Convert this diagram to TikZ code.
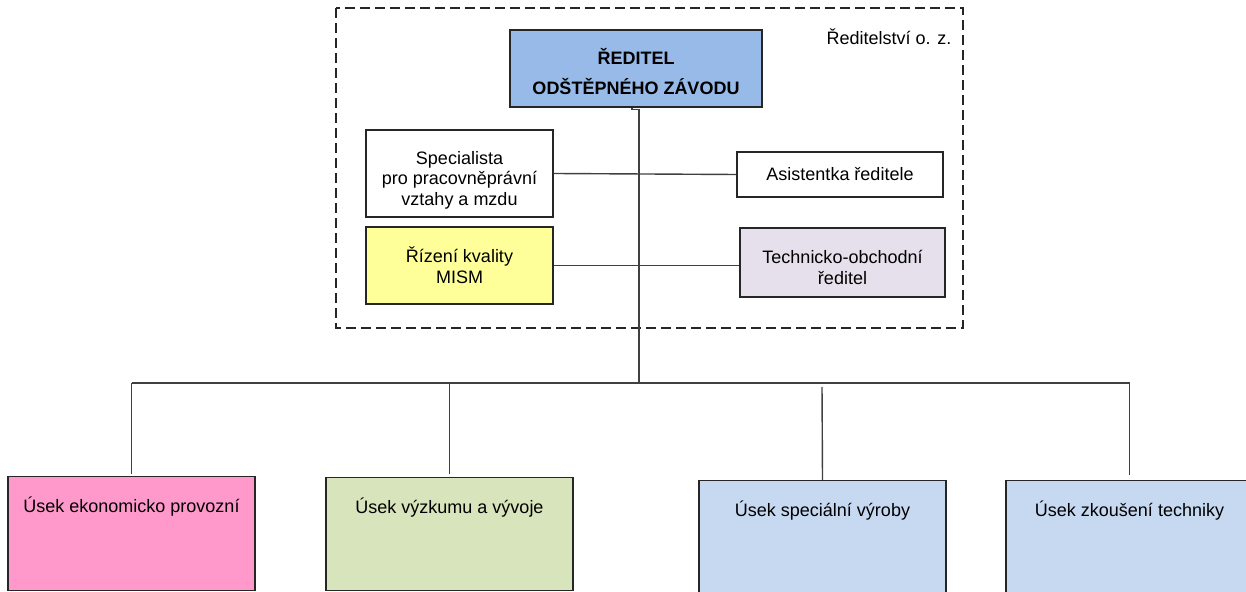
\documentclass[tikz,border=0pt]{standalone}
\usepackage{fontspec}
\setmainfont{Liberation Sans}
\definecolor{reditelblue}{HTML}{98BAE9}
\definecolor{kvalita}{HTML}{FFFF99}
\definecolor{obchod}{HTML}{E5E0EC}
\definecolor{ekonom}{HTML}{FF99CC}
\definecolor{vyzkum}{HTML}{D8E4BC}
\definecolor{vyroba}{HTML}{C6D9F1}
\newcommand{\vyska}[1]{\rule{0pt}{#1}}
\begin{document}
\begin{tikzpicture}[x=0.5pt,y=-0.5pt,line width=0.7pt,
    box/.style={draw=black!85,align=center,inner sep=0pt,font=\fontsize{9}{10.3}\selectfont},
    usek/.style={box,anchor=north,minimum width=123.5pt,text height=18pt,text depth=#1},
    spoj/.style={draw=black!75}]
  \useasboundingbox (0,0) rectangle (1246,592);
  \draw[black!85,dash pattern=on 5pt off 2.5pt] (336,8) rectangle (963,328);
  \node (reditelstvi) at (889,37) {\fontsize{9}{11}\selectfont Ředitelství o. z.};
  \node[box,fill=reditelblue,minimum width=126pt,minimum height=38.5pt,
    font=\fontsize{9}{15}\selectfont\bfseries] (reditel) at (636,68.5) {\vyska{11.5pt}ŘEDITEL\\ODŠTĚPNÉHO ZÁVODU};
  \node[box,minimum width=93.5pt,minimum height=43.5pt] (spec) at (459.5,173.5) {\vyska{13pt}Specialista\\pro pracovněprávní\\vztahy a mzdu};
  \node[box,minimum width=103pt,minimum height=22.5pt] (asist) at (840,174.5) {Asistentka ředitele};
  \node[box,fill=kvalita,minimum width=93.5pt,minimum height=38.5pt] (rizeni) at (459.5,265.5) {Řízení kvality\\MISM};
  \node[box,fill=obchod,minimum width=102.5pt,minimum height=34.5pt] (tech) at (842.5,262.5) {\vyska{11.5pt}Technicko-obchodní\\ředitel};
  \node[usek=39pt,fill=ekonom] (ekon) at (131.5,476) {Úsek ekonomicko provozní};
  \node[usek=38.5pt,fill=vyzkum] (vyvoj) at (449.5,477) {Úsek výzkumu a vývoje};
  \node[usek=44pt,fill=vyroba] (vyroba) at (822.5,480) {Úsek speciální výroby};
  \node[usek=44pt,fill=vyroba] (zkouseni) at (1129.5,480) {Úsek zkoušení techniky};
  \coordinate (trunk) at (639,383);
  \coordinate (b3) at (822,387);
  \draw[spoj] ([xshift=-2pt]reditel.south) -- ++(0,2) -| (trunk);
  \draw[spoj] (spec.east) -- (asist.west);
  \draw[spoj] (rizeni.east) -- (rizeni.east -| tech.west);
  \draw[spoj] (ekon.north |- trunk) -- (zkouseni.north |- trunk);
  \draw[spoj] (ekon.north |- trunk) -- ([yshift=1pt]ekon.north);
  \draw[spoj] (vyvoj.north |- trunk) -- ([yshift=1.5pt]vyvoj.north);
  \draw[spoj] (b3) -- (vyroba.north);
  \draw[spoj] (zkouseni.north |- trunk) -- ([yshift=2.5pt]zkouseni.north);
\end{tikzpicture}
\end{document}
